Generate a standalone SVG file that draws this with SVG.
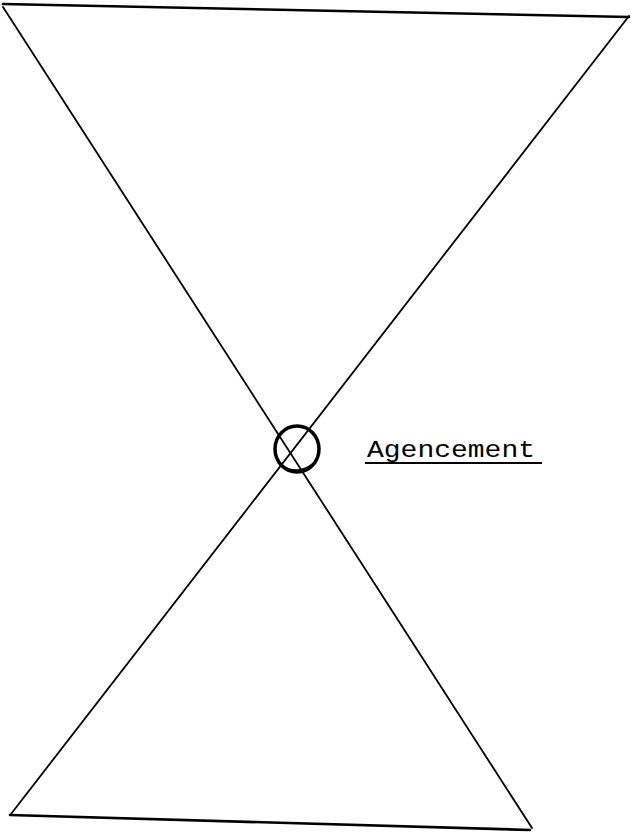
<svg xmlns="http://www.w3.org/2000/svg" width="631" height="834" viewBox="0 0 631 834">
<style>
.edge{stroke:#000;fill:none;stroke-linecap:round}
.thin{stroke-width:1.8}
.thick{stroke-width:2.6}
.lbl{font-family:"Liberation Mono","DejaVu Sans Mono",monospace;font-size:23px;fill:#000}
</style>
<rect width="631" height="834" fill="#fff"/>
<g id="connectors">
<line class="edge thick" x1="3" y1="4" x2="629" y2="17"/>
<line class="edge thin" x1="3" y1="7" x2="532" y2="828"/>
<line class="edge thin" x1="629" y1="16" x2="11" y2="814"/>
<line class="edge thick" x1="10" y1="815" x2="530" y2="830"/>
</g>
<g id="node-agencement">
<ellipse cx="297" cy="449" rx="22" ry="23" fill="none" stroke="#000" stroke-width="3.5"/>
<path d="M280 465 Q297 476 313 464" fill="none" stroke="#000" stroke-width="2"/>
<text class="lbl" x="367" y="457" textLength="168" lengthAdjust="spacingAndGlyphs">Agencement</text>
<line x1="365" y1="463" x2="542" y2="463" stroke="#000" stroke-width="2"/>
</g>
</svg>
